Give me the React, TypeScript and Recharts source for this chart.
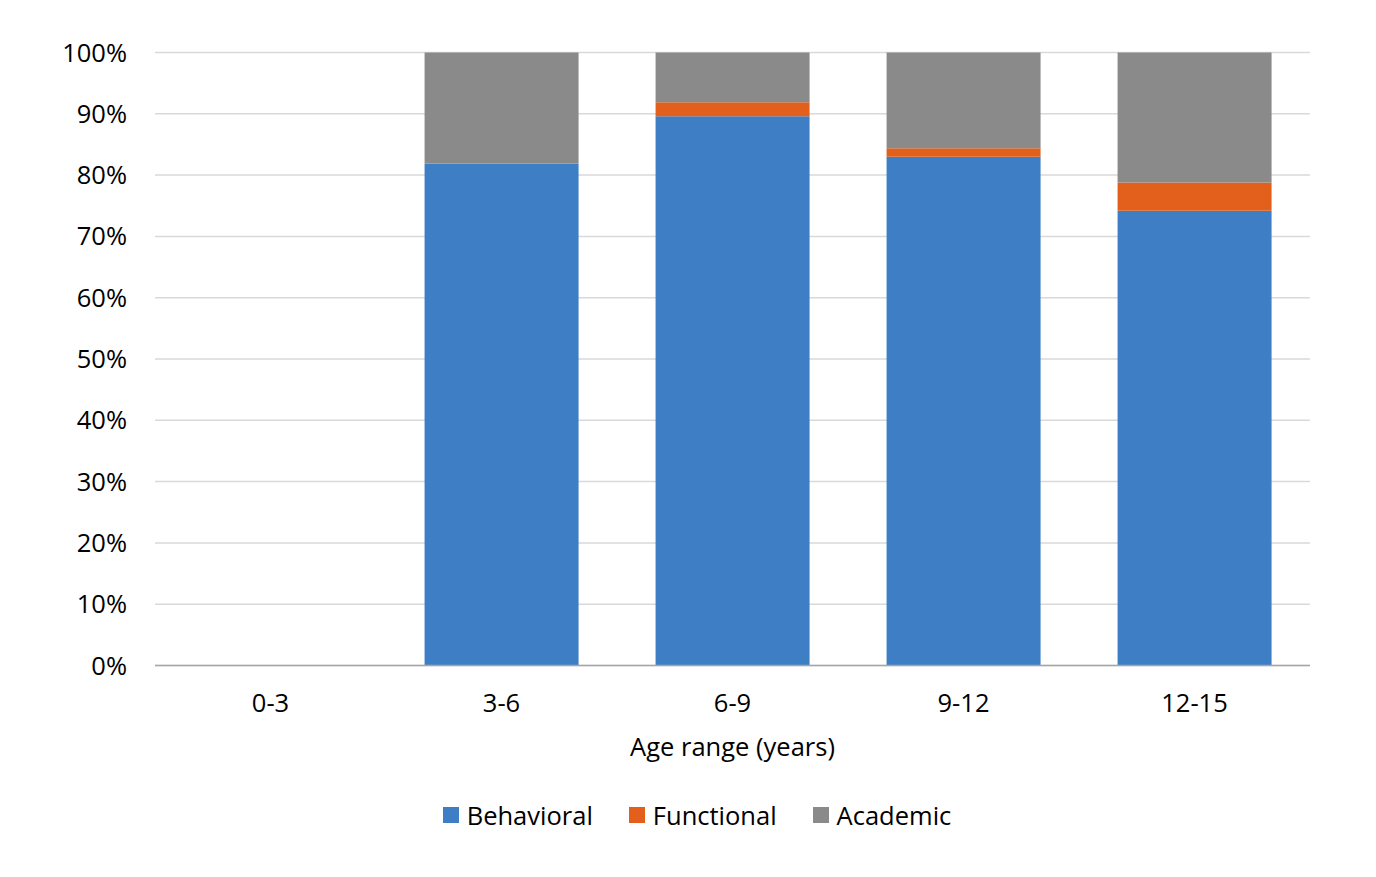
import { Bar, BarChart, CartesianGrid, Legend, XAxis, YAxis } from "recharts";

const ageRanges = ["0-3", "3-6", "6-9", "9-12", "12-15"];
const behavioral = [0, 81.9, 89.6, 83.0, 74.2];
const functional = [0, 0, 2.3, 1.4, 4.6];
const academic = [0, 18.1, 8.1, 15.6, 21.2];
const percentTicks = [0, 10, 20, 30, 40, 50, 60, 70, 80, 90, 100];

const series = [
  { key: "behavioral", label: "Behavioral", color: "#3e7ec5" },
  { key: "functional", label: "Functional", color: "#e2601c" },
  { key: "academic", label: "Academic", color: "#8a8a8a" },
];

const data = ageRanges.map((age, i) => ({
  age,
  behavioral: behavioral[i],
  functional: functional[i],
  academic: academic[i],
}));

const font = "'Open Sans', sans-serif";
const fontSize = 25.5;

const LegendContent = () => (
  <div
    style={{
      display: "flex",
      justifyContent: "center",
      alignItems: "center",
      gap: 36,
      paddingLeft: 76,
      fontFamily: font,
      fontSize,
      color: "#000",
    }}
  >
    {series.map((s) => (
      <div key={s.key} style={{ display: "flex", alignItems: "center", gap: 8 }}>
        <span style={{ width: 16, height: 16, background: s.color, display: "inline-block" }} />
        <span>{s.label}</span>
      </div>
    ))}
  </div>
);

export default function App() {
  return (
    <div style={{ background: "#fff" }}>
      <BarChart
        width={1360}
        height={860}
        data={data}
        margin={{ top: 44.5, right: 58, left: 0, bottom: 30 }}
        barCategoryGap="16.7%"
      >
        <CartesianGrid vertical={false} stroke="#d9d9d9" strokeWidth={1.5} />
        <XAxis
          dataKey="age"
          height={132.5}
          tickLine={false}
          tickSize={0}
          tickMargin={28}
          axisLine={{ stroke: "#a6a6a6", strokeWidth: 1.5 }}
          tick={{ fill: "#000", fontSize, fontFamily: font }}
          label={{
            value: "Age range (years)",
            position: "insideBottom",
            offset: 42,
            fill: "#000",
            fontSize,
            fontFamily: font,
          }}
        />
        <YAxis
          width={147}
          domain={[0, 100]}
          ticks={percentTicks}
          interval={0}
          tickFormatter={(v: number) => `${v}%`}
          axisLine={false}
          tickLine={false}
          tickSize={0}
          tickMargin={28}
          tick={{ fill: "#000", fontSize, fontFamily: font }}
        />
        <Legend verticalAlign="bottom" height={40} content={<LegendContent />} />
        {series.map((s) => (
          <Bar
            key={s.key}
            dataKey={s.key}
            name={s.label}
            stackId="a"
            fill={s.color}
            isAnimationActive={false}
          />
        ))}
      </BarChart>
    </div>
  );
}
